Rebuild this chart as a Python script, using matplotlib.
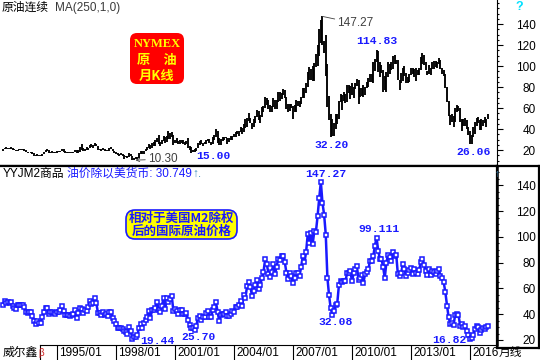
import numpy as np
import matplotlib
matplotlib.use("Agg")
import matplotlib.pyplot as plt
import matplotlib.ticker as mticker
from matplotlib.patches import FancyBboxPatch
from matplotlib.lines import Line2D
from matplotlib.transforms import IdentityTransform

plt.rcParams["font.family"] = ["Liberation Sans", "Noto Sans CJK SC", "DejaVu Sans"]

# monthly bars start 1992/04
start_year, start_month = 1992, 4

high = [
    21.0, 22.4, 22.8, 22.3, 21.9, 22.5, 22.1, 20.9, 20.3,
    20.5, 21.0, 20.7, 20.8, 20.6, 20.0, 18.6, 18.6, 18.5, 18.6, 17.1, 15.3,
    15.8, 15.4, 15.1, 16.6, 18.3, 20.4, 20.7, 19.8, 18.6, 18.9, 18.6, 17.9,
    18.8, 18.9, 19.3, 20.8, 20.6, 19.2, 17.8, 18.1, 17.9, 17.8, 18.3, 19.7,
    19.9, 19.6, 22.5, 25.4, 22.3, 21.0, 22.5, 22.3, 24.7, 25.9, 24.6, 26.6,
    26.0, 24.2, 21.3, 20.8, 22.2, 21.0, 20.4, 20.2, 21.8, 22.8, 21.0, 19.1,
    18.0, 17.2, 16.4, 16.8, 15.8, 15.1, 14.8, 14.3, 16.9, 16.5, 14.4, 12.4,
    13.2, 13.3, 16.8, 18.8, 19.0, 19.4, 20.8, 22.5, 25.6, 24.8, 27.0, 27.2,
    30.0, 31.6, 34.4, 27.6, 30.0, 33.1, 32.8, 33.1, 37.8, 36.0, 36.9, 34.5,
    29.9, 31.6, 28.4, 29.2, 29.8, 29.8, 27.8, 28.5, 31.0, 23.5, 22.5, 20.2,
    21.1, 21.8, 26.5, 28.3, 29.1, 27.0, 27.9, 29.9, 30.8, 30.5, 28.1, 32.7,
    34.5, 40.0, 38.0, 31.5, 30.5, 32.3, 32.7, 32.8, 31.9, 31.7, 33.0, 33.3,
    35.2, 37.0, 38.4, 38.2, 42.3, 40.9, 44.8, 49.4, 50.5, 55.7, 50.3, 46.1,
    49.4, 52.0, 57.7, 57.5, 53.0, 61.0, 62.3, 70.9, 70.0, 67.3, 62.5, 61.7,
    69.2, 68.0, 67.5, 75.4, 74.9, 74.0, 78.4, 77.3, 70.4, 63.8, 63.5, 64.0,
    62.3, 62.5, 68.0, 66.9, 66.6, 70.9, 78.8, 78.8, 84.1, 94.7, 99.3, 97.0,
    100.1, 102.6, 111.8, 119.9, 135.1, 143.7, 147.27, 124.3, 130.0, 102.3, 71.2, 54.7,
    49.5, 45.3, 54.7, 53.9, 66.5, 73.4, 72.2, 75.0, 72.9, 82.0, 82.0, 81.4,
    84.0, 80.5, 83.9, 87.2, 86.8, 79.2, 79.3, 82.4, 80.1, 84.6, 88.6, 92.1,
    92.6, 103.4, 106.9, 114.83, 114.0, 103.4, 100.6, 96.0, 90.5, 94.7, 103.4, 101.9,
    103.7, 109.8, 110.6, 106.2, 106.2, 86.9, 92.9, 97.8, 100.4, 93.2, 90.0, 92.1,
    98.2, 97.8, 97.4, 97.8, 96.2, 98.5, 108.9, 112.2, 110.7, 104.2, 95.4, 100.8,
    98.6, 104.0, 105.2, 105.0, 104.2, 107.7, 105.7, 98.5, 95.9, 92.2, 79.6, 67.0,
    53.6, 54.2, 52.5, 59.9, 62.6, 61.8, 59.9, 49.3, 49.2, 50.9, 48.4, 42.1,
    38.4, 34.6, 41.9, 46.8, 50.2, 51.7, 49.0, 49.4, 48.3, 51.9, 49.9, 54.5,
]

low = [
    19.4, 20.6, 21.4, 21.2, 20.8, 21.2, 20.4, 19.8, 19.0,
    18.8, 19.9, 19.9, 19.9, 19.4, 18.2, 17.1, 17.7, 16.9, 16.6, 14.7, 14.0,
    14.1, 14.4, 14.1, 14.4, 16.3, 17.8, 18.9, 17.4, 16.8, 17.5, 17.4, 16.8,
    17.6, 18.0, 17.9, 19.2, 18.6, 17.3, 16.9, 17.2, 17.3, 17.1, 17.4, 18.1,
    17.3, 17.6, 18.4, 20.5, 19.2, 19.5, 20.3, 20.4, 22.0, 22.9, 22.3, 23.6,
    23.4, 20.1, 20.1, 18.7, 19.6, 19.1, 19.1, 19.2, 19.1, 20.6, 18.8, 17.5,
    16.7, 15.1, 13.9, 15.0, 14.3, 11.4, 13.3, 12.8, 13.2, 13.9, 10.8, 10.35,
    11.3, 11.7, 12.3, 16.2, 16.6, 16.6, 19.2, 20.0, 22.0, 20.9, 21.7, 24.2,
    24.1, 27.4, 26.0, 23.9, 25.3, 28.3, 26.6, 27.5, 30.3, 30.4, 32.0, 25.0,
    26.3, 26.8, 25.6, 25.6, 26.8, 25.6, 24.8, 26.2, 21.8, 20.2, 17.5, 17.9,
    17.9, 19.4, 21.5, 24.9, 25.3, 24.0, 25.3, 26.0, 28.6, 26.4, 25.0, 26.1,
    30.0, 32.7, 26.8, 24.8, 25.0, 28.9, 29.9, 31.3, 26.0, 27.6, 29.4, 29.6,
    32.4, 32.5, 35.1, 33.6, 37.4, 35.4, 37.1, 41.3, 41.9, 47.9, 45.6, 40.3,
    42.1, 45.9, 51.4, 49.0, 46.2, 51.9, 56.5, 60.3, 62.7, 59.1, 56.3, 56.3,
    61.0, 59.5, 59.5, 66.2, 67.0, 68.2, 72.5, 69.7, 59.5, 56.6, 57.3, 60.0,
    49.9, 56.3, 56.5, 62.3, 61.4, 64.1, 69.2, 69.2, 74.2, 79.7, 87.0, 86.3,
    86.1, 86.1, 98.7, 99.6, 109.9, 122.3, 120.0, 112.0, 90.5, 61.3, 48.3, 32.4,
    33.6, 33.6, 40.2, 45.1, 49.3, 65.4, 58.3, 67.1, 65.1, 65.5, 74.8, 68.6,
    72.4, 69.5, 78.4, 80.9, 64.2, 70.8, 71.0, 70.8, 72.6, 79.1, 80.1, 84.9,
    85.1, 84.1, 95.4, 104.1, 94.6, 89.6, 93.0, 75.7, 77.1, 75.0, 89.6, 92.5,
    96.3, 96.9, 102.0, 101.8, 86.3, 77.3, 83.6, 86.1, 90.2, 84.1, 84.1, 84.4,
    91.7, 92.0, 89.3, 85.6, 91.1, 91.6, 95.8, 102.2, 101.4, 96.2, 91.8, 92.6,
    91.2, 96.8, 97.4, 98.9, 98.3, 101.9, 97.2, 92.5, 90.4, 79.4, 65.7, 52.7,
    43.6, 47.1, 42.0, 47.0, 56.5, 57.2, 47.0, 37.8, 43.2, 42.6, 40.0, 34.5,
    26.05, 26.2, 32.0, 35.2, 43.0, 45.8, 39.2, 39.2, 42.5, 45.6, 42.2, 49.9,
]

# oil price deflated by US M2 (monthly close)
ratio = [
    47.2, 50.2, 49.0, 49.3, 48.4, 49.5, 46.4, 44.8, 43.9,
    47.0, 47.5, 47.2, 47.0, 45.8, 42.0, 41.0, 42.0, 41.5, 38.5, 34.5, 32.5,
    34.5, 33.2, 33.5, 37.5, 41.5, 44.5, 45.0, 40.5, 42.0, 41.5, 41.3, 40.5,
    41.5, 41.8, 43.5, 46.0, 42.5, 39.0, 39.3, 39.5, 38.8, 39.0, 40.2, 43.0,
    37.0, 40.6, 44.7, 44.0, 41.0, 43.2, 42.3, 45.7, 50.1, 47.9, 48.6, 52.8,
    48.6, 40.7, 40.8, 39.7, 41.4, 39.3, 39.8, 38.7, 41.8, 41.5, 37.3, 34.5,
    32.7, 29.2, 29.5, 29.0, 28.6, 26.6, 26.5, 25.0, 29.9, 26.7, 20.7, 22.3,
    22.5, 23.5, 29.5, 32.7, 29.3, 33.5, 35.5, 38.2, 42.2, 37.4, 42.9, 43.6,
    45.0, 49.4, 43.6, 41.5, 46.7, 52.2, 43.9, 52.9, 49.1, 52.0, 54.5, 42.4,
    44.2, 42.1, 40.3, 43.6, 43.3, 40.0, 40.0, 41.1, 35.3, 31.9, 29.1, 29.6,
    27.9, 30.9, 37.4, 38.7, 35.8, 37.9, 38.0, 40.6, 42.7, 38.0, 37.5, 43.4,
    45.2, 49.2, 41.6, 34.5, 39.5, 40.2, 40.5, 41.8, 38.5, 38.3, 39.9, 42.5,
    42.0, 45.9, 45.3, 47.3, 50.3, 46.7, 55.0, 52.8, 62.1, 64.7, 61.3, 54.2,
    58.3, 62.6, 66.9, 59.9, 62.6, 67.9, 72.7, 82.6, 79.3, 71.5, 68.5, 72.8,
    78.8, 71.1, 77.0, 83.0, 82.2, 85.1, 85.5, 80.6, 72.0, 67.1, 72.0, 69.6,
    63.9, 67.8, 72.2, 71.8, 69.8, 76.9, 84.9, 80.2, 88.3, 101.9, 95.4, 103.0,
    94.3, 104.4, 104.0, 116.0, 130.0, 142.6, 126.2, 117.2, 101.8, 68.4, 54.7, 44.7,
    39.6, 42.4, 46.9, 48.1, 62.3, 65.6, 65.1, 65.4, 65.8, 71.6, 71.8, 73.6,
    65.6, 71.7, 75.3, 77.4, 66.4, 67.8, 70.7, 64.4, 71.5, 72.7, 75.0, 81.4,
    81.0, 85.0, 93.3, 99.4, 89.4, 82.9, 82.9, 76.7, 68.2, 80.1, 86.1, 84.5,
    81.6, 88.5, 84.9, 86.3, 70.9, 69.6, 71.9, 78.6, 74.9, 69.9, 71.9, 74.1,
    75.9, 71.5, 75.3, 72.3, 70.9, 74.3, 80.6, 82.5, 78.2, 73.5, 70.5, 74.7,
    70.2, 73.6, 72.8, 71.3, 73.3, 75.0, 69.8, 68.1, 64.6, 56.9, 46.7, 37.5,
    32.3, 33.3, 31.8, 39.7, 40.1, 39.5, 31.2, 32.5, 29.7, 30.6, 27.3, 24.2,
    21.1, 21.2, 23.9, 28.6, 30.5, 29.9, 25.7, 27.5, 29.6, 28.7, 30.2, 30.749,
]

date_ticks = ["1995/01", "1998/01", "2001/01", "2004/01", "2007/01",
              "2010/01", "2013/01", "2016"]
y_ticks = [20, 40, 60, 80, 100, 120, 140]

# (text, month, series kind, offset in px)
top_blue_notes = [("15.00", "2001/11", "low", (22, -3)),
                  ("32.20", "2008/12", "low", (1, -8)),
                  ("114.83", "2011/04", "high", (0, 9)),
                  ("26.06", "2016/01", "low", (4, -8))]
bottom_notes = [("147.27", "2008/06", (5, 8)),
                ("19.44", "1998/11", (25, -2)),
                ("25.70", "2001/11", (7, -9)),
                ("32.08", "2009/01", (3, -7)),
                ("99.111", "2011/04", (2, 9)),
                ("16.82", "2016/01", (-21, -1))]


def month_index(label):
    y = int(label[:4])
    m = int(label[5:7]) if "/" in label else 1
    return (y - start_year) * 12 + (m - start_month)


W, H = 540, 360
BLUE = "#1a1aff"
fig = plt.figure(figsize=(W / 100, H / 100), dpi=100)
fig.patch.set_facecolor("white")

ax1 = fig.add_axes([0, 1 - 166 / H, 497 / W, 166 / H])
ax2 = fig.add_axes([0, 15 / H, 497 / W, 179 / H])

x = np.arange(len(high))
ax1.vlines(x, low, high, color="black", lw=1.35)
ax2.plot(x, ratio, color=BLUE, lw=1.8, marker="s", ms=3.4,
         mfc="white", mec=BLUE, mew=1.1)

for ax in (ax1, ax2):
    ax.set_xlim(-1.8, 301.5)
    ax.yaxis.tick_right()
    ax.set_yticks(y_ticks)
    ax.yaxis.set_minor_locator(mticker.MultipleLocator(5))
    ax.tick_params(axis="y", which="major", length=4.3, width=0.8,
                   pad=23.8, labelsize=8.5, direction="out")
    ax.tick_params(axis="y", which="minor", length=1.4, width=0.8)
    ax.spines["left"].set_visible(False)
    for t in ax.get_yticklabels():
        t.set_horizontalalignment("right")

ax1.set_ylim(4.8, 162.9)
ax2.set_ylim(16.1, 155.0)
ax1.set_xticks([])
ax1.spines["top"].set_visible(False)
ax1.spines["right"].set_linewidth(0.8)
ax1.spines["bottom"].set_linewidth(1.6)
ax2.spines["top"].set_linewidth(1.6)
ax2.spines["right"].set_linewidth(1.8)
ax2.spines["bottom"].set_visible(False)

# date separators + labels
ax2.set_xticks([month_index(t) for t in date_ticks])
ax2.set_xticklabels([])
ax2.tick_params(axis="x", length=11, width=0.8, direction="out")
for lab in date_ticks:
    ax2.annotate(lab, xy=(month_index(lab), 0), xycoords=("data", "axes fraction"),
                 xytext=(2, -2), textcoords="offset pixels", ha="left", va="top",
                 fontsize=8.5, annotation_clip=False)

# box around lower price scale
axb = fig.add_axes([497 / W, 12 / H, 42 / W, 182 / H])
axb.set_facecolor("none")
axb.set_xticks([])
axb.set_yticks([])
for s in axb.spines.values():
    s.set_linewidth(1.6)

fig.add_artist(Line2D([40 / W, 497 / W], [15 / H, 15 / H], color="black", lw=0.8))
fig.add_artist(Line2D([40 / W, 40 / W], [0, 15 / H], color="black", lw=0.8))

# annotations, upper panel
i = month_index("2008/07")
ax1.annotate("147.27", xy=(i, high[i]), xytext=(15, -7), textcoords="offset pixels",
             ha="left", va="center", color="#404040", fontsize=8.5,
             arrowprops=dict(arrowstyle="-", color="#404040", lw=0.6,
                             shrinkA=0, shrinkB=0))
i = month_index("1998/12")
ax1.annotate("10.30", xy=(i, low[i]), xytext=(14, 1), textcoords="offset pixels",
             ha="left", va="center", color="#404040", fontsize=8.5,
             arrowprops=dict(arrowstyle="->", color="#404040", lw=0.6,
                             shrinkA=0, shrinkB=1, mutation_scale=6))
for txt, m, kind, off in top_blue_notes:
    i = month_index(m)
    yv = high[i] if kind == "high" else low[i]
    ax1.annotate(txt, xy=(i, yv), xytext=off, textcoords="offset pixels",
                 ha="center", va="center", color=BLUE, fontsize=8.2,
                 fontweight="bold", family="Liberation Mono")

for txt, m, off in bottom_notes:
    i = month_index(m)
    ax2.annotate(txt, xy=(i, ratio[i]), xytext=off, textcoords="offset pixels",
                 ha="center", va="center", color=BLUE, fontsize=8.2,
                 fontweight="bold", family="Liberation Mono")

# headers
fig.text(2 / W, 1 - 8 / H, "原油连续", fontsize=8.5, va="center")
fig.text(55 / W, 1 - 8 / H, "MA(250,1,0)", fontsize=8.5, va="center", color="#3a3a3a")
fig.text(3 / W, 1 - 174 / H, "YYJM2商品", fontsize=8.5, va="center")
fig.text(67 / W, 1 - 174 / H, "油价除以美货币: 30.749", fontsize=8.5, va="center", color=BLUE)
fig.text(192 / W, 1 - 174 / H, "↑.", fontsize=8.5, va="center", color="#3f8fc0")
fig.text(519 / W, 1 - 7 / H, "?", fontsize=9, ha="center", va="center",
         color="#00e0ff", fontweight="bold")
fig.text(497 / W, 1 - 174 / H, "↑", fontsize=7, ha="center", va="center", color="#3f8fc0")
fig.text(3 / W, 1 - 353 / H, "威尔鑫", fontsize=8.5, va="center")
fig.text(38 / W, 1 - 353 / H, "β", fontsize=7, va="center", color="#d02020")
fig.text(499 / W, 1 - 353 / H, "月线", fontsize=8.5, va="center")

# red label box
fig.add_artist(FancyBboxPatch((130, H - 84), 54, 51, boxstyle="round,pad=0,rounding_size=7",
                              fc="#ff0000", ec="none", transform=IdentityTransform()))
fig.text(157 / W, 1 - 44 / H, "NYMEX", fontsize=9, ha="center", va="center",
         color="#ffff00", fontweight="bold", family=["Liberation Serif", "Noto Sans CJK SC"])
fig.text(157 / W, 1 - 60 / H, "原\u3000油", fontsize=9.5, ha="center", va="center",
         color="#ffff00", fontweight="bold", family=["Noto Sans CJK SC"])
fig.text(157 / W, 1 - 76 / H, "月K线", fontsize=9.5, ha="center", va="center",
         color="#ffff00", fontweight="bold", family=["Noto Sans CJK SC"])

# yellow label box
fig.add_artist(FancyBboxPatch((126, H - 239), 111, 29, boxstyle="round,pad=0,rounding_size=9",
                              fc="#ffff00", ec=BLUE, lw=1.2, transform=IdentityTransform()))
fig.text(181.5 / W, 1 - 218 / H, "相对于美国M2除权", fontsize=9, ha="center", va="center",
         color=BLUE, fontweight="bold", family=["Noto Sans CJK SC"])
fig.text(181.5 / W, 1 - 231 / H, "后的国际原油价格", fontsize=9, ha="center", va="center",
         color=BLUE, fontweight="bold", family=["Noto Sans CJK SC"])

fig.savefig("out.png", dpi=100, facecolor="white")
